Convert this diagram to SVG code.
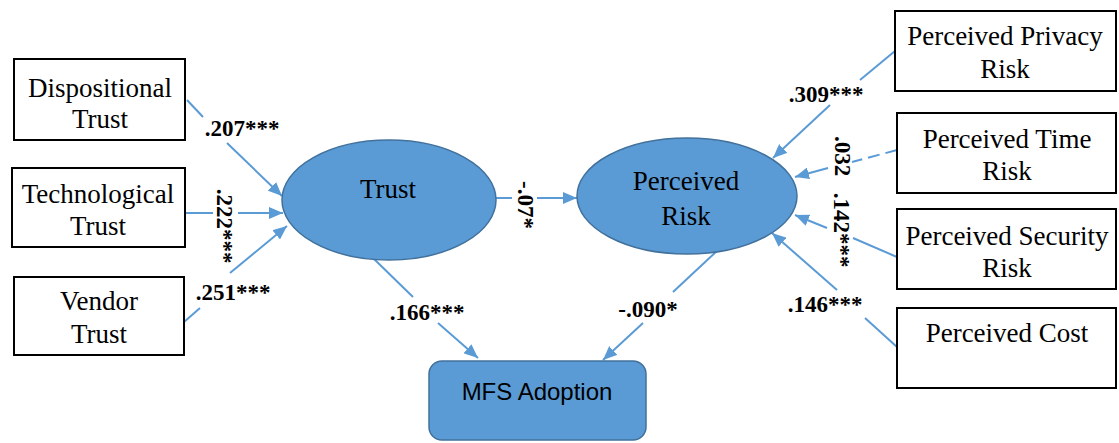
<svg xmlns="http://www.w3.org/2000/svg" width="1119" height="443" viewBox="0 0 1119 443">
<style>
.box{fill:#fff;stroke:#000;stroke-width:2}
.ell{fill:#5B9BD5;stroke:#41719C;stroke-width:1.5}
.t{font-family:"Liberation Serif","Times New Roman",serif;font-size:27px;fill:#000;text-anchor:middle}
.lbl{font-family:"Liberation Serif","Times New Roman",serif;font-size:23px;font-weight:bold;fill:#000;text-anchor:middle}
.s{font-family:"Liberation Sans",Arial,sans-serif;font-size:24px;fill:#000;text-anchor:middle}
.ln{stroke:#5B9BD5;stroke-width:2;fill:none}
.dash{stroke-dasharray:12 6}
</style>
<defs>
<marker id="ah" markerUnits="userSpaceOnUse" markerWidth="14" markerHeight="12" refX="14" refY="6" orient="auto">
<path d="M0,0 L14,6 L0,12 z" fill="#5B9BD5"/>
</marker>
</defs>
<g id="connectors">
<line class="ln" x1="187" y1="100" x2="203" y2="117"/>
<line class="ln" x1="227" y1="143" x2="282" y2="196" marker-end="url(#ah)"/>
<line class="ln" x1="185" y1="213" x2="213" y2="213"/>
<line class="ln" x1="238" y1="213" x2="283" y2="213" marker-end="url(#ah)"/>
<line class="ln" x1="184" y1="322" x2="200" y2="308"/>
<line class="ln" x1="230" y1="273" x2="287" y2="226" marker-end="url(#ah)"/>
<line class="ln" x1="496" y1="198" x2="512" y2="198"/>
<line class="ln" x1="537" y1="198" x2="577" y2="198" marker-end="url(#ah)"/>
<line class="ln" x1="373" y1="258" x2="413" y2="297"/>
<line class="ln" x1="438" y1="323" x2="478" y2="358" marker-end="url(#ah)"/>
<line class="ln" x1="718" y1="250" x2="673" y2="292"/>
<line class="ln" x1="643" y1="323" x2="603" y2="360" marker-end="url(#ah)"/>
<line class="ln" x1="895" y1="51" x2="860" y2="80"/>
<line class="ln" x1="830" y1="105" x2="773" y2="158" marker-end="url(#ah)"/>
<line class="ln dash" x1="897" y1="150" x2="852" y2="162"/>
<line class="ln" x1="828" y1="168" x2="795" y2="177" marker-end="url(#ah)"/>
<line class="ln" x1="897" y1="257" x2="853" y2="238"/>
<line class="ln" x1="827" y1="228" x2="795" y2="215" marker-end="url(#ah)"/>
<line class="ln" x1="897" y1="347" x2="865" y2="318"/>
<line class="ln" x1="837" y1="290" x2="772" y2="233" marker-end="url(#ah)"/>
</g>
<g id="labels">
<text class="lbl" x="242" y="136">.207***</text>
<text class="lbl" transform="translate(217,226) rotate(90)">.222***</text>
<text class="lbl" x="233" y="300">.251***</text>
<text class="lbl" transform="translate(518,205) rotate(90)">-.07*</text>
<text class="lbl" x="427" y="320">.166***</text>
<text class="lbl" x="648" y="317">-.090*</text>
<text class="lbl" x="826" y="102">.309***</text>
<text class="lbl" transform="translate(835,156) rotate(90)">.032</text>
<text class="lbl" transform="translate(834,230) rotate(90)">.142***</text>
<text class="lbl" x="825" y="312">.146***</text>
</g>
<g id="dispositional"><rect class="box" x="14" y="59" width="171" height="81"/><text class="t" x="100" y="97">Dispositional</text><text class="t" x="100" y="128">Trust</text></g>
<g id="technological"><rect class="box" x="12" y="168" width="173" height="79"/><text class="t" x="98" y="203">Technological</text><text class="t" x="98" y="235">Trust</text></g>
<g id="vendor"><rect class="box" x="14" y="277" width="170" height="78"/><text class="t" x="99" y="310">Vendor</text><text class="t" x="99" y="343">Trust</text></g>
<g id="trust"><ellipse class="ell" cx="389" cy="200" rx="107" ry="60"/><text class="t" x="388" y="198">Trust</text></g>
<g id="perceived-risk"><ellipse class="ell" cx="687" cy="196" rx="110" ry="58"/><text class="t" x="686" y="190">Perceived</text><text class="t" x="686" y="225">Risk</text></g>
<g id="mfs-adoption"><rect x="429" y="361" width="217" height="79" rx="13" fill="#5B9BD5" stroke="#41719C" stroke-width="1.5"/><text class="s" x="537" y="400">MFS Adoption</text></g>
<g id="privacy"><rect class="box" x="895" y="11" width="221" height="80"/><text class="t" x="1005" y="45">Perceived Privacy</text><text class="t" x="1005" y="78">Risk</text></g>
<g id="time"><rect class="box" x="897" y="113" width="219" height="80"/><text class="t" x="1007" y="148">Perceived Time</text><text class="t" x="1007" y="180">Risk</text></g>
<g id="security"><rect class="box" x="897" y="209" width="219" height="80"/><text class="t" x="1007" y="245">Perceived Security</text><text class="t" x="1007" y="277">Risk</text></g>
<g id="cost"><rect class="box" x="897" y="308" width="219" height="80"/><text class="t" x="1007" y="342">Perceived Cost</text></g>
</svg>
